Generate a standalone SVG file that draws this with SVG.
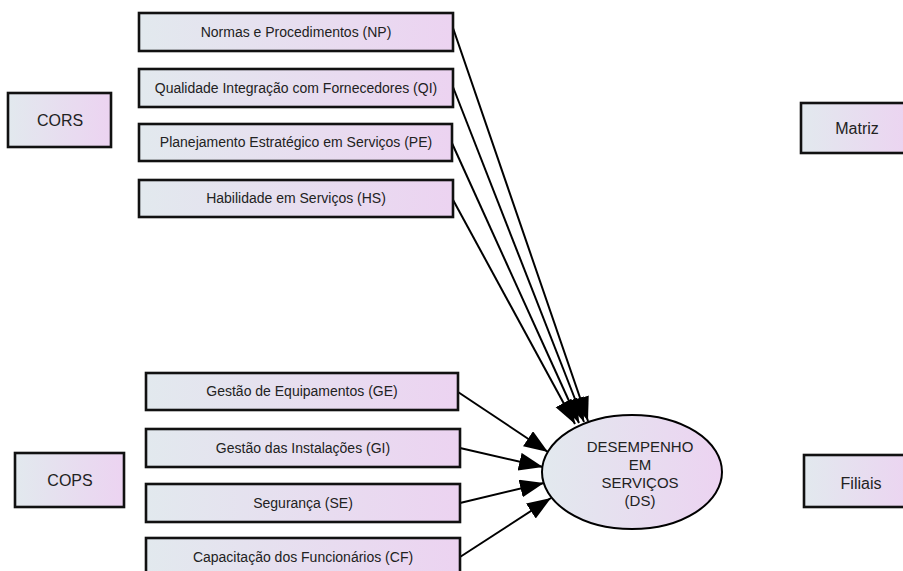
<svg xmlns="http://www.w3.org/2000/svg" width="903" height="571" viewBox="0 0 903 571">
<defs>
<linearGradient id="g" x1="0" y1="0" x2="1" y2="0">
<stop offset="0" stop-color="#e2e9ee"/>
<stop offset="1" stop-color="#ecd3f1"/>
</linearGradient>
<marker id="ah" markerUnits="userSpaceOnUse" markerWidth="26" markerHeight="20" refX="24" refY="9" orient="auto">
<path d="M0,0 L24,9 L0,18 Z" fill="#000"/>
</marker>
<style>
.box{fill:url(#g);stroke:#111;stroke-width:2.6}
.t{font-family:"Liberation Sans",Arial,sans-serif;font-size:14px;fill:#222;text-anchor:middle}
.tb{font-family:"Liberation Sans",Arial,sans-serif;font-size:16px;fill:#222;text-anchor:middle}
.te{font-family:"Liberation Sans",Arial,sans-serif;font-size:15px;fill:#222;text-anchor:middle}
.c{stroke:#000;stroke-width:2;fill:none;marker-end:url(#ah)}
</style>
</defs>
<g id="connectors">
<line class="c" x1="453" y1="28" x2="588" y2="421"/>
<line class="c" x1="453" y1="87" x2="584" y2="422"/>
<line class="c" x1="451" y1="141" x2="579" y2="423"/>
<line class="c" x1="452" y1="198" x2="575" y2="424"/>
<line class="c" x1="458" y1="392" x2="548" y2="452"/>
<line class="c" x1="460" y1="448" x2="543" y2="467"/>
<line class="c" x1="460" y1="503" x2="544" y2="483"/>
<line class="c" x1="460" y1="557" x2="551" y2="498"/>
</g>
<g id="CORS"><rect class="box" x="8" y="93" width="103" height="54"/><text class="tb" x="60" y="126">CORS</text></g>
<g id="COPS"><rect class="box" x="15" y="453" width="109" height="54"/><text class="tb" x="70" y="486">COPS</text></g>
<g id="Matriz"><rect class="box" x="801" y="103" width="110" height="50"/><text class="tb" x="857" y="134">Matriz</text></g>
<g id="Filiais"><rect class="box" x="804" y="455" width="110" height="52"/><text class="tb" x="861" y="489">Filiais</text></g>
<g id="NP"><rect class="box" x="139" y="13" width="314" height="38"/><text class="t" x="296" y="37">Normas e Procedimentos (NP)</text></g>
<g id="QI"><rect class="box" x="139" y="69" width="314" height="38"/><text class="t" x="296" y="93">Qualidade Integração com Fornecedores  (QI)</text></g>
<g id="PE"><rect class="box" x="139" y="124" width="313" height="37"/><text class="t" x="296" y="147">Planejamento Estratégico em Serviços (PE)</text></g>
<g id="HS"><rect class="box" x="139" y="180" width="314" height="37"/><text class="t" x="296" y="203">Habilidade em Serviços (HS)</text></g>
<g id="GE"><rect class="box" x="146" y="373" width="312" height="37"/><text class="t" x="302" y="396">Gestão de Equipamentos (GE)</text></g>
<g id="GI"><rect class="box" x="146" y="429" width="314" height="38"/><text class="t" x="303" y="453">Gestão das Instalações (GI)</text></g>
<g id="SE"><rect class="box" x="146" y="484" width="314" height="38"/><text class="t" x="303" y="508">Segurança (SE)</text></g>
<g id="CF"><rect class="box" x="146" y="538" width="314" height="38"/><text class="t" x="303" y="562">Capacitação dos Funcionários (CF)</text></g>
<g id="DS"><ellipse cx="632" cy="472" rx="90" ry="57" fill="url(#g)" stroke="#000" stroke-width="2"/>
<text class="te" x="640" y="452">DESEMPENHO</text>
<text class="te" x="640" y="470">EM</text>
<text class="te" x="640" y="488">SERVIÇOS</text>
<text class="te" x="640" y="506">(DS)</text></g>
</svg>
